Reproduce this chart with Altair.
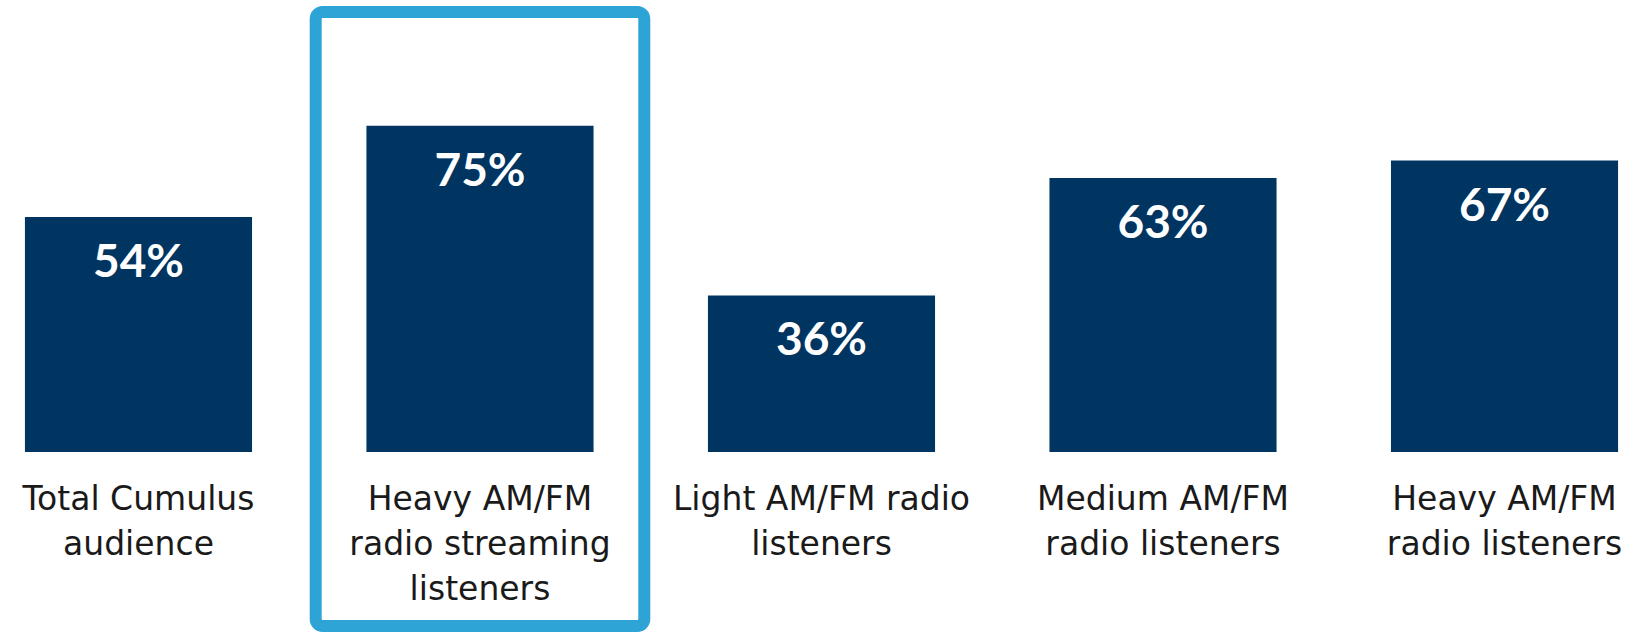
import altair as alt
import pandas as pd

categories = [
    "Total Cumulus audience",
    "Heavy AM/FM radio streaming listeners",
    "Light AM/FM radio listeners",
    "Medium AM/FM radio listeners",
    "Heavy AM/FM radio listeners",
]
label_lines = [
    "Total Cumulus\naudience",
    "Heavy AM/FM\nradio streaming\nlisteners",
    "Light AM/FM radio\nlisteners",
    "Medium AM/FM\nradio listeners",
    "Heavy AM/FM\nradio listeners",
]
values = [54, 75, 36, 63, 67]
value_labels = ["54%", "75%", "36%", "63%", "67%"]
highlighted = ["Heavy AM/FM radio streaming listeners"]

df = pd.DataFrame({
    "category": categories,
    "label": label_lines,
    "value": values,
    "text": value_labels,
})
hl = df[df["category"].isin(highlighted)]

label_map = {c: l for c, l in zip(categories, label_lines)}
label_expr = "split({" + ",".join(
    f"'{c}': '{l.replace(chr(10), '|')}'" for c, l in label_map.items()
) + "}[datum.value], '|')"

x_enc = alt.X(
    "category:N",
    sort=categories,
    title=None,
    scale=alt.Scale(paddingInner=0.335, paddingOuter=0.073),
    axis=alt.Axis(
        labelAngle=0,
        labelExpr=label_expr,
        labelFont="DejaVu Sans",
        labelFontSize=33,
        labelColor="#1a1a1a",
        labelLineHeight=45,
        labelBaseline="top",
        labelPadding=31,
        ticks=False,
        tickSize=0,
        domain=False,
        grid=False,
        labelLimit=0,
        labelOverlap=False,
    ),
)
y_enc = alt.Y("value:Q", scale=alt.Scale(domain=[0, 100]), axis=None)

bars = alt.Chart(df).mark_bar(color="#003461").encode(x=x_enc, y=y_enc)

texts = alt.Chart(df).mark_text(
    color="white",
    font="Lato",
    fontWeight="bold",
    fontSize=46,
    baseline="middle",
    dy=46,
).encode(x=alt.X("category:N", sort=categories), y=y_enc, text="text:N")

box = alt.Chart(hl).mark_bar(
    fill=None,
    fillOpacity=0,
    stroke="#2EA3D6",
    strokeWidth=12,
    cornerRadius=7,
    width=alt.RelativeBandSize(1.447),
).encode(
    x=alt.X("category:N", sort=categories),
    y=alt.value(-5),
    y2=alt.value(609),
)

chart = alt.layer(bars, texts, box).properties(
    width=1643,
    height=435,
    background="white",
    padding={"left": 0, "top": 17, "right": 0, "bottom": 180},
    autosize=alt.AutoSizeParams(type="none"),
).configure_view(stroke=None, strokeWidth=0)

chart.save("out.html", embed_options={"renderer": "svg", "actions": False})
